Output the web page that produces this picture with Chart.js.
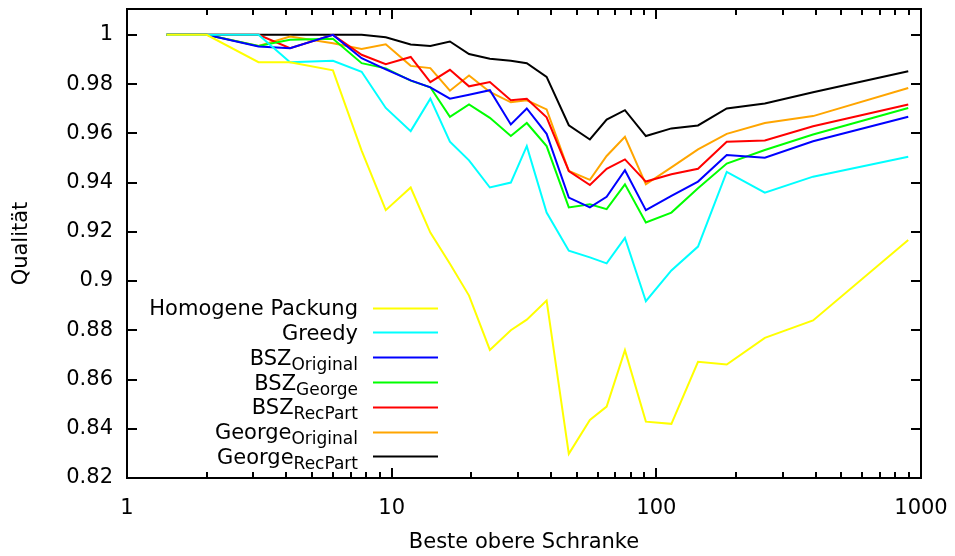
<!DOCTYPE html>
<html>
<head>
<meta charset="utf-8">
<script src="https://cdn.jsdelivr.net/npm/chart.js@4/dist/chart.umd.min.js"></script>
<style>
  html, body { margin: 0; padding: 0; background: #ffffff; }
  #wrap { width: 955px; height: 556px; }
</style>
</head>
<body>
<div id="wrap"><canvas id="c" width="955" height="556"></canvas></div>
<script>
// Best upper bound (x, log scale)
const bounds = [1.41, 2, 3.14, 4.13, 6, 7.7, 9.5, 11.8, 14, 16.6, 19.6, 23.5, 28.2, 32.4,
  38.5, 46.7, 56.1, 64.9, 76.1, 91.3, 114, 143.7, 184.5, 257, 391, 895];

// Quality per method
const homogenePackung = [1, 1, 0.9889, 0.9889, 0.9856, 0.953, 0.9288, 0.938, 0.9197, 0.907,
  0.8941, 0.872, 0.88, 0.8843, 0.8921, 0.8298, 0.8436, 0.849, 0.8719, 0.8429, 0.842,
  0.8672, 0.8661, 0.8769, 0.884, 0.9167];
const greedy = [1, 1, 1, 0.9889, 0.9895, 0.985, 0.9703, 0.9609, 0.9741, 0.9566, 0.949,
  0.938, 0.94, 0.9548, 0.9278, 0.9123, 0.9096, 0.9072, 0.9175, 0.8918, 0.9043, 0.914,
  0.9443, 0.9359, 0.9424, 0.9505];
const bszOriginal = [1, 1, 0.9953, 0.9946, 1, 0.9905, 0.986, 0.9815, 0.9787, 0.9741,
  0.9757, 0.9775, 0.9636, 0.9701, 0.9598, 0.9339, 0.9299, 0.9342, 0.945, 0.9288, 0.9346,
  0.9404, 0.9512, 0.9501, 0.9568, 0.9667];
const bszGeorge = [1, 1, 0.9955, 0.998, 0.9984, 0.9885, 0.9864, 0.9814, 0.9787, 0.9667,
  0.9717, 0.9663, 0.9589, 0.9642, 0.9548, 0.9299, 0.9312, 0.9292, 0.9393, 0.9238, 0.9278,
  0.9377, 0.9477, 0.9532, 0.9595, 0.9703];
const bszRecPart = [1, 1, 1, 0.9946, 1, 0.9919, 0.9881, 0.991, 0.9808, 0.9858, 0.9791,
  0.9808, 0.9734, 0.974, 0.9665, 0.9447, 0.939, 0.9456, 0.9494, 0.9404, 0.9434, 0.9456,
  0.9566, 0.9571, 0.9629, 0.9717];
const georgeOriginal = [1, 1, 0.9955, 0.9993, 0.9966, 0.9943, 0.9962, 0.9874, 0.9865,
  0.9773, 0.9835, 0.9768, 0.9726, 0.9734, 0.9697, 0.9447, 0.9411, 0.9508, 0.9586, 0.9393,
  0.9462, 0.9535, 0.9598, 0.9642, 0.967, 0.9784];
const georgeRecPart = [1, 1, 1, 1, 1, 1, 0.999, 0.9961, 0.9955, 0.9973, 0.9922, 0.9903,
  0.9895, 0.9885, 0.9829, 0.9633, 0.9575, 0.9656, 0.9694, 0.9589, 0.962, 0.9632, 0.9701,
  0.9721, 0.9767, 0.9852];

// Legend text: main part and subscript
const legendMain = ['Homogene Packung', 'Greedy', 'BSZ', 'BSZ', 'BSZ', 'George', 'George'];
const legendSub = ['', '', 'Original', 'George', 'RecPart', 'Original', 'RecPart'];
const seriesColors = ['#ffff00', '#00ffff', '#0000ff', '#00ff00', '#ff0000', '#ffa500', '#000000'];
const seriesValues = [homogenePackung, greedy, bszOriginal, bszGeorge, bszRecPart, georgeOriginal, georgeRecPart];

// Axis ticks
const xTicks = [1, 10, 100, 1000];
const xTickLabels = ['1', '10', '100', '1000'];
const yTicks = [0.82, 0.84, 0.86, 0.88, 0.9, 0.92, 0.94, 0.96, 0.98, 1];
const yTickLabels = ['0.82', '0.84', '0.86', '0.88', '0.9', '0.92', '0.94', '0.96', '0.98', '1'];

const FONT = 'DejaVu Sans';
const FS = 21;

const datasets = seriesValues.map((vals, i) => ({
  label: legendMain[i] + (legendSub[i] ? ' ' + legendSub[i] : ''),
  data: vals.map((v, k) => ({ x: bounds[k], y: v })),
  borderColor: seriesColors[i],
  backgroundColor: seriesColors[i],
  borderWidth: 2,
  pointRadius: 0,
  tension: 0,
  fill: false
}));

// Frame with inward ticks on all four sides
const framePlugin = {
  id: 'frame',
  afterDatasetsDraw(chart) {
    const { ctx, chartArea: a, scales } = chart;
    ctx.save();
    ctx.strokeStyle = '#000';
    ctx.lineWidth = 2;
    ctx.beginPath();
    yTicks.forEach(v => {
      const y = Math.round(scales.y.getPixelForValue(v));
      ctx.moveTo(a.left, y); ctx.lineTo(a.left + 10, y);
      ctx.moveTo(a.right, y); ctx.lineTo(a.right - 10, y);
    });
    for (let d = 1; d < 1000; d *= 10) {
      for (let m = 1; m <= 9; m++) {
        const v = d * m;
        if (v <= 1 || v >= 1000) continue;
        const x = Math.round(scales.x.getPixelForValue(v));
        const len = m === 1 ? 10 : 6;
        ctx.moveTo(x, a.bottom); ctx.lineTo(x, a.bottom - len);
        ctx.moveTo(x, a.top); ctx.lineTo(x, a.top + len);
      }
    }
    ctx.stroke();
    ctx.strokeRect(a.left, a.top, a.right - a.left, a.bottom - a.top);
    ctx.restore();
  }
};

// Key with subscripted labels, right-aligned text and a line sample
const keyPlugin = {
  id: 'key',
  afterDraw(chart) {
    const { ctx } = chart;
    const textRight = 358;
    const x0 = 373, x1 = 438;
    const top = 307.5, step = 24.8;
    ctx.save();
    ctx.textBaseline = 'alphabetic';
    ctx.textAlign = 'left';
    legendMain.forEach((main, i) => {
      const cy = top + i * step;
      const base = cy + 7.6;
      ctx.font = `${FS}px "${FONT}"`;
      const wMain = ctx.measureText(main).width;
      ctx.font = `${Math.round(FS * 0.8)}px "${FONT}"`;
      const wSub = legendSub[i] ? ctx.measureText(legendSub[i]).width : 0;
      const start = textRight - wMain - wSub;
      ctx.fillStyle = '#000';
      ctx.font = `${FS}px "${FONT}"`;
      ctx.fillText(main, start, base);
      if (legendSub[i]) {
        ctx.font = `${Math.round(FS * 0.8)}px "${FONT}"`;
        ctx.fillText(legendSub[i], start + wMain, base + 5);
      }
      ctx.strokeStyle = seriesColors[i];
      ctx.lineWidth = 2;
      ctx.beginPath();
      ctx.moveTo(x0, Math.round(cy) + 0.5);
      ctx.lineTo(x1, Math.round(cy) + 0.5);
      ctx.stroke();
    });
    ctx.restore();
  }
};

function zeroPad(scale) {
  scale.paddingTop = 0; scale.paddingBottom = 0;
  scale.paddingLeft = 0; scale.paddingRight = 0;
}

new Chart(document.getElementById('c'), {
  type: 'line',
  data: { datasets },
  options: {
    responsive: false,
    animation: false,
    devicePixelRatio: 1,
    layout: { padding: { left: 0, right: 34, top: 9, bottom: 0 } },
    plugins: { legend: { display: false }, tooltip: { enabled: false } },
    scales: {
      x: {
        type: 'logarithmic',
        min: 1, max: 1000,
        grid: { display: false, drawTicks: false },
        border: { display: false },
        afterBuildTicks: s => { s.ticks = xTicks.map(v => ({ value: v, major: true })); },
        afterFit: s => { s.height = 78; zeroPad(s); },
        ticks: {
          autoSkip: false, maxRotation: 0, padding: 18,
          color: '#000', font: { family: FONT, size: FS },
          callback: (v, i) => xTickLabels[i]
        },
        title: {
          display: true, text: 'Beste obere Schranke', color: '#000',
          font: { family: FONT, size: FS }, padding: { top: 0, bottom: 1 }
        }
      },
      y: {
        type: 'linear',
        min: 0.82, max: 1.0105,
        grid: { display: false, drawTicks: false },
        border: { display: false },
        afterBuildTicks: s => { s.ticks = yTicks.map(v => ({ value: v })); },
        afterFit: s => { s.width = 127; zeroPad(s); },
        ticks: {
          padding: 14, color: '#000', font: { family: FONT, size: FS },
          callback: (v, i) => yTickLabels[i]
        },
        title: {
          display: true, text: 'Qualität', color: '#000',
          font: { family: FONT, size: FS }, padding: { top: 9, bottom: 0 }
        }
      }
    }
  },
  plugins: [framePlugin, keyPlugin]
});
</script>
</body>
</html>
